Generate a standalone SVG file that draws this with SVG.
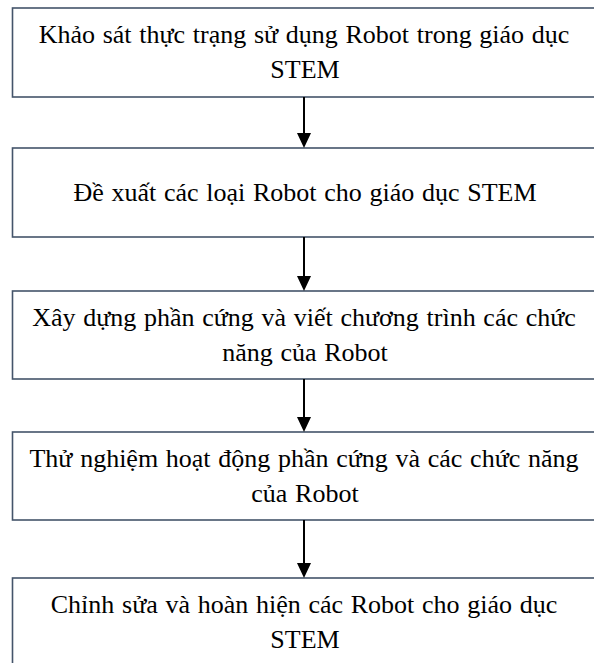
<svg xmlns="http://www.w3.org/2000/svg" width="594" height="663" viewBox="0 0 594 663">
<style>
.box{fill:#ffffff;stroke:#44546a;stroke-width:1.6}
.c{stroke:#000;stroke-width:2;fill:none}
.h{fill:#000}
</style>
<rect width="594" height="663" fill="#ffffff"/>
<g font-family="Liberation Serif, Times New Roman, serif" font-size="26" word-spacing="1.2" fill="#000" text-anchor="middle">
<g id="node1">
<rect class="box" x="12.5" y="8" width="586" height="89"/>
<text x="304" y="43">Khảo sát thực trạng sử dụng Robot trong giáo dục</text>
<text x="305" y="78">STEM</text>
</g>
<g id="node2">
<rect class="box" x="12.5" y="148" width="586" height="89"/>
<text x="305" y="201">Đề xuất các loại Robot cho giáo dục STEM</text>
</g>
<g id="node3">
<rect class="box" x="12.5" y="291" width="586" height="88"/>
<text x="304" y="326">Xây dựng phần cứng và viết chương trình các chức</text>
<text x="305" y="361">năng của Robot</text>
</g>
<g id="node4">
<rect class="box" x="12.5" y="432" width="586" height="88"/>
<text x="304" y="467">Thử nghiệm hoạt động phần cứng và các chức năng</text>
<text x="305" y="502">của Robot</text>
</g>
<g id="node5">
<rect class="box" x="12.5" y="578" width="586" height="89"/>
<text x="304" y="613">Chỉnh sửa và hoàn hiện các Robot cho giáo dục</text>
<text x="305" y="648">STEM</text>
</g>
</g>
<g id="connectors">
<line class="c" x1="304" y1="97" x2="304" y2="134"/>
<polygon class="h" points="297,133 311,133 304,148"/>
<line class="c" x1="304" y1="237" x2="304" y2="277"/>
<polygon class="h" points="297,276 311,276 304,291"/>
<line class="c" x1="304" y1="379" x2="304" y2="418"/>
<polygon class="h" points="297,417 311,417 304,432"/>
<line class="c" x1="304" y1="520" x2="304" y2="564"/>
<polygon class="h" points="297,563 311,563 304,578"/>
</g>
</svg>
